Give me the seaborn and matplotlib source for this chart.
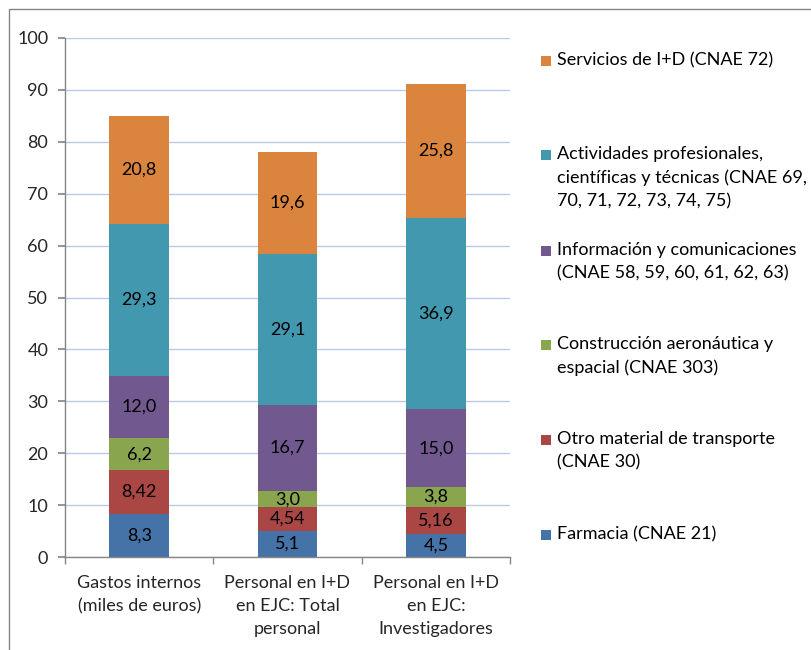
import matplotlib
matplotlib.use("Agg")
import matplotlib.pyplot as plt
from matplotlib.patches import Rectangle
import seaborn as sns
import numpy as np

categories = ["Gastos internos\n(miles de euros)",
              "Personal en I+D\nen EJC: Total\npersonal",
              "Personal en I+D\nen EJC:\nInvestigadores"]
series_names = ["Farmacia (CNAE 21)",
                "Otro material de transporte\n(CNAE 30)",
                "Construcción aeronáutica y\nespacial (CNAE 303)",
                "Información y comunicaciones\n(CNAE 58, 59, 60, 61, 62, 63)",
                "Actividades profesionales,\ncientíficas y técnicas (CNAE 69,\n70, 71, 72, 73, 74, 75)",
                "Servicios de I+D (CNAE 72)"]
farmacia = [8.3, 5.1, 4.5]
otro_material = [8.42, 4.54, 5.16]
construccion = [6.2, 3.0, 3.8]
informacion = [12.0, 16.7, 15.0]
actividades = [29.3, 29.1, 36.9]
servicios = [20.8, 19.6, 25.8]
decimals = [1, 2, 1, 1, 1, 1]
colors = ["#4572A7", "#AA4643", "#89A54E", "#71588F", "#4198AF", "#DB843D"]
yticks = [0, 10, 20, 30, 40, 50, 60, 70, 80, 90, 100]

sns.set_theme(style="white")
plt.rcParams["font.family"] = ["Lato", "DejaVu Sans"]
FS = 13

fig = plt.figure(figsize=(8.12, 6.5), dpi=100)
ax = fig.add_axes([65/812, 1-557/650, (510-65)/812, (557-38)/650])

all_series = [farmacia, otro_material, construccion, informacion, actividades, servicios]
bottom = np.zeros(3)
for vals, col, dec in zip(all_series, colors, decimals):
    sns.barplot(x=categories, y=vals, bottom=bottom, color=col, saturation=1,
                width=0.4, linewidth=0, ax=ax)
    cont = ax.containers[-1]
    labels = [f"{v:.{dec}f}".replace(".", ",") for v in vals]
    ax.bar_label(cont, labels=labels, label_type="center", fontsize=FS, color="black")
    bottom = bottom + np.array(vals)

ax.set_ylim(0, 100)
ax.set_xlim(-0.5, 2.5)
ax.set_yticks(yticks)
ax.set_yticklabels([str(t) for t in yticks], fontsize=FS)
ax.yaxis.grid(True, color="#B9CBE6", linewidth=1)
ax.set_axisbelow(True)
for s in ["top", "right"]:
    ax.spines[s].set_visible(False)
for s in ["left", "bottom"]:
    ax.spines[s].set_color("#868686")
    ax.spines[s].set_linewidth(1)
ax.tick_params(axis="y", which="major", left=True, length=5, color="#868686", pad=7, labelsize=FS)
ax.set_xticks([0, 1, 2])
ax.set_xticklabels(categories, fontsize=FS, linespacing=1.55, va="top")
ax.set_xticks([-0.5, 0.5, 1.5, 2.5], minor=True)
ax.tick_params(axis="x", which="major", length=0, pad=13)
ax.tick_params(axis="x", which="minor", bottom=True, length=5, color="#868686")
ax.set_xlabel("")
ax.set_ylabel("")

# legend (drawn manually to match Excel layout)
leg_y = [61, 155, 251, 345, 440, 535]
for name, col, y in zip(series_names[::-1], colors[::-1], leg_y):
    fig.patches.append(Rectangle((541/812, 1-(y+5)/650), 10/812, 10/650,
                                 transform=fig.transFigure, facecolor=col,
                                 edgecolor="none"))
    fig.text(557/812, 1-(y-9)/650, name, fontsize=FS, va="top", ha="left",
             linespacing=1.55, color="black")

fig.patches.append(Rectangle((9/812, -0.1), 1.2, 1.1-9/650, transform=fig.transFigure,
                             facecolor="none", edgecolor="#868686", linewidth=1))

fig.savefig("out.png", dpi=100)
